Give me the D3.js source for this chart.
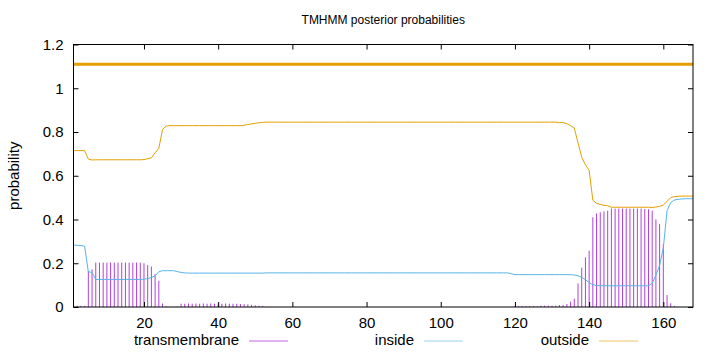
<!DOCTYPE html>
<html>
<head>
<meta charset="utf-8">
<script src="https://cdn.jsdelivr.net/npm/d3@7"></script>
<style>
  html, body { margin: 0; padding: 0; background: #fff; }
  svg { display: block; }
  text { font-family: "Liberation Sans", Arial, sans-serif; fill: #000; }
</style>
</head>
<body>
<svg id="chart" width="720" height="352"></svg>
<script>
// ---- data (per residue, residue 1..168) ----
const title = "TMHMM posterior probabilities";
const yLabel = "probability";
const seriesNames = ["transmembrane", "inside", "outside"];
const xTicks = [20, 40, 60, 80, 100, 120, 140, 160];
const yTicks = [0, 0.2, 0.4, 0.6, 0.8, 1, 1.2];

const transmembrane = [
  0.002, 0.005, 0.005, 0.005, 0.165, 0.172, 0.203, 0.203, 0.203, 0.203,
  0.203, 0.203, 0.203, 0.203, 0.203, 0.203, 0.203, 0.203, 0.203, 0.200,
  0.192, 0.185, 0.150, 0.120, 0.016, 0.004, 0.001, 0.001, 0.003, 0.015,
  0.015, 0.016, 0.015, 0.016, 0.015, 0.016, 0.015, 0.016, 0.015, 0.016,
  0.015, 0.016, 0.015, 0.015, 0.015, 0.014, 0.013, 0.012, 0.010, 0.008,
  0.006, 0.005, 0.001, 0, 0, 0, 0, 0, 0, 0,
  0, 0, 0, 0, 0, 0, 0, 0, 0, 0,
  0, 0, 0, 0, 0, 0, 0, 0, 0, 0,
  0, 0, 0, 0, 0, 0, 0, 0, 0, 0,
  0, 0, 0, 0, 0, 0, 0, 0, 0, 0,
  0, 0, 0, 0, 0, 0, 0, 0, 0, 0,
  0, 0, 0, 0, 0, 0, 0, 0, 0, 0.004,
  0.004, 0.004, 0.004, 0.004, 0.004, 0.004, 0.006, 0.006, 0.006, 0.006,
  0.006, 0.009, 0.009, 0.014, 0.024, 0.038, 0.108, 0.180, 0.227, 0.257,
  0.410, 0.428, 0.433, 0.437, 0.440, 0.450, 0.450, 0.450, 0.450, 0.450,
  0.450, 0.450, 0.450, 0.450, 0.448, 0.447, 0.440, 0.400, 0.379, 0.287,
  0.055, 0.017, 0.005, 0.001, 0, 0, 0, 0
];

const inside = [
  0.283, 0.282, 0.281, 0.278, 0.161, 0.158, 0.126, 0.126, 0.126, 0.126,
  0.126, 0.126, 0.126, 0.126, 0.126, 0.126, 0.126, 0.126, 0.126, 0.127,
  0.130, 0.135, 0.142, 0.161, 0.166, 0.166, 0.166, 0.166, 0.162, 0.158,
  0.156, 0.155, 0.155, 0.155, 0.155, 0.155, 0.155, 0.155, 0.155, 0.155,
  0.155, 0.155, 0.155, 0.155, 0.155, 0.155, 0.155, 0.155, 0.155, 0.155,
  0.155, 0.155, 0.156, 0.156, 0.156, 0.156, 0.156, 0.156, 0.156, 0.156,
  0.156, 0.156, 0.156, 0.156, 0.156, 0.156, 0.156, 0.156, 0.156, 0.156,
  0.156, 0.156, 0.156, 0.156, 0.156, 0.156, 0.156, 0.156, 0.156, 0.156,
  0.156, 0.156, 0.156, 0.156, 0.156, 0.156, 0.156, 0.156, 0.156, 0.156,
  0.156, 0.156, 0.156, 0.156, 0.156, 0.156, 0.156, 0.156, 0.156, 0.156,
  0.156, 0.156, 0.156, 0.156, 0.156, 0.156, 0.156, 0.156, 0.156, 0.156,
  0.156, 0.156, 0.156, 0.156, 0.156, 0.156, 0.156, 0.156, 0.152, 0.148,
  0.148, 0.148, 0.148, 0.148, 0.148, 0.148, 0.148, 0.148, 0.148, 0.148,
  0.148, 0.148, 0.148, 0.148, 0.148, 0.146, 0.143, 0.136, 0.125, 0.112,
  0.102, 0.098, 0.097, 0.097, 0.097, 0.097, 0.097, 0.097, 0.097, 0.097,
  0.097, 0.097, 0.097, 0.097, 0.097, 0.097, 0.108, 0.145, 0.190, 0.270,
  0.440, 0.478, 0.489, 0.492, 0.494, 0.495, 0.495, 0.495
];

const outside = [
  0.715, 0.715, 0.715, 0.715, 0.676, 0.672, 0.673, 0.673, 0.673, 0.673,
  0.673, 0.673, 0.673, 0.673, 0.673, 0.673, 0.673, 0.673, 0.673, 0.674,
  0.678, 0.682, 0.705, 0.725, 0.812, 0.827, 0.829, 0.829, 0.829, 0.829,
  0.829, 0.829, 0.829, 0.829, 0.829, 0.829, 0.829, 0.829, 0.829, 0.829,
  0.829, 0.829, 0.829, 0.829, 0.829, 0.829, 0.831, 0.834, 0.837, 0.840,
  0.842, 0.844, 0.845, 0.845, 0.845, 0.845, 0.845, 0.845, 0.845, 0.845,
  0.845, 0.845, 0.845, 0.845, 0.845, 0.845, 0.845, 0.845, 0.845, 0.845,
  0.845, 0.845, 0.845, 0.845, 0.845, 0.845, 0.845, 0.845, 0.845, 0.845,
  0.845, 0.845, 0.845, 0.845, 0.845, 0.845, 0.845, 0.845, 0.845, 0.845,
  0.845, 0.845, 0.845, 0.845, 0.845, 0.845, 0.845, 0.845, 0.845, 0.845,
  0.845, 0.845, 0.845, 0.845, 0.845, 0.845, 0.845, 0.845, 0.845, 0.845,
  0.845, 0.845, 0.845, 0.845, 0.845, 0.845, 0.845, 0.845, 0.845, 0.845,
  0.845, 0.845, 0.845, 0.845, 0.845, 0.845, 0.845, 0.845, 0.845, 0.845,
  0.845, 0.843, 0.843, 0.838, 0.829, 0.818, 0.750, 0.685, 0.650, 0.625,
  0.488, 0.474, 0.469, 0.465, 0.463, 0.456, 0.456, 0.456, 0.456, 0.456,
  0.456, 0.456, 0.456, 0.456, 0.456, 0.456, 0.455, 0.457, 0.460, 0.466,
  0.483, 0.500, 0.505, 0.506, 0.507, 0.507, 0.507, 0.507
];

// predicted topology segments (start residue, end residue, region)
const topology = [{ start: 1, end: 168, region: "outside", level: 1.11 }];

// ---- chart ----
const colors = { transmembrane: "#9400d3", inside: "#56b4e9", outside: "#e69f00" };
const pLeft = 73.5, pRight = 693, pTop = 44.5, pBottom = 307;
const FS = 15;

const svg = d3.select("#chart");
const residues = transmembrane.map((_, i) => i + 1);

const x = d3.scaleLinear().domain([1, 168]).range([pLeft, pRight]);
const y = d3.scaleLinear().domain([0, 1.2]).range([pBottom, pTop]);

// title
svg.append("text").attr("x", (pLeft + pRight) / 2).attr("y", 24)
  .attr("text-anchor", "middle").style("font-size", "12px").text(title);

// y label
svg.append("text").attr("transform", `translate(19,${(pTop + pBottom) / 2}) rotate(-90)`)
  .attr("text-anchor", "middle").style("font-size", FS + "px").text(yLabel);

// TM impulses
svg.append("g").selectAll("line").data(residues).join("line")
  .attr("x1", r => x(r)).attr("x2", r => x(r))
  .attr("y1", y(0)).attr("y2", r => y(transmembrane[r - 1]))
  .attr("stroke", colors.transmembrane).attr("stroke-width", 1)
  .attr("stroke-opacity", 0.75);

// lines
const lineGen = arr => d3.line().x(r => x(r)).y(r => y(arr[r - 1]))(residues);
svg.append("path").attr("d", lineGen(inside)).attr("fill", "none")
  .attr("stroke", colors.inside).attr("stroke-width", 1);
svg.append("path").attr("d", lineGen(outside)).attr("fill", "none")
  .attr("stroke", colors.outside).attr("stroke-width", 1);

// topology line
svg.append("g").selectAll("line").data(topology).join("line")
  .attr("x1", d => x(d.start)).attr("x2", d => x(d.end))
  .attr("y1", d => y(d.level)).attr("y2", d => y(d.level))
  .attr("stroke", d => colors[d.region]).attr("stroke-width", 3);

// axes
const fmt = d3.format("~g");
const axB = svg.append("g").attr("transform", `translate(0,${pBottom})`)
  .call(d3.axisBottom(x).tickValues(xTicks).tickSize(-5).tickSizeOuter(0).tickPadding(10).tickFormat(fmt));
const axT = svg.append("g").attr("transform", `translate(0,${pTop})`)
  .call(d3.axisTop(x).tickValues(xTicks).tickSize(-5).tickSizeOuter(0).tickFormat(""));
const axL = svg.append("g").attr("transform", `translate(${pLeft},0)`)
  .call(d3.axisLeft(y).tickValues(yTicks).tickSize(-5).tickSizeOuter(0).tickPadding(10).tickFormat(fmt));
const axR = svg.append("g").attr("transform", `translate(${pRight},0)`)
  .call(d3.axisRight(y).tickValues(yTicks).tickSize(-5).tickSizeOuter(0).tickFormat(""));
[axB, axT, axL, axR].forEach(g => {
  g.select(".domain").remove();
  g.selectAll(".tick line").attr("stroke", "#000");
  g.selectAll("text").style("font-size", FS + "px").attr("fill", "#000")
    .style("font-family", '"Liberation Sans", Arial, sans-serif');
});

// border
svg.append("rect").attr("x", pLeft).attr("y", pTop)
  .attr("width", pRight - pLeft).attr("height", pBottom - pTop)
  .attr("fill", "none").attr("stroke", "#000").attr("stroke-width", 1);

// legend
const legendY = 341;
const legendEntries = [
  { name: seriesNames[0], textEnd: 239, l1: 249, l2: 288 },
  { name: seriesNames[1], textEnd: 414, l1: 424, l2: 463 },
  { name: seriesNames[2], textEnd: 589, l1: 599, l2: 638 }
];
const lg = svg.append("g").selectAll("g").data(legendEntries).join("g");
lg.append("text").attr("x", d => d.textEnd).attr("y", legendY + 4)
  .attr("text-anchor", "end").style("font-size", FS + "px").text(d => d.name);
lg.append("line").attr("x1", d => d.l1).attr("x2", d => d.l2)
  .attr("y1", legendY).attr("y2", legendY)
  .attr("stroke", d => colors[d.name]).attr("stroke-width", 1)
  .attr("stroke-opacity", 0.6);
</script>
</body>
</html>
